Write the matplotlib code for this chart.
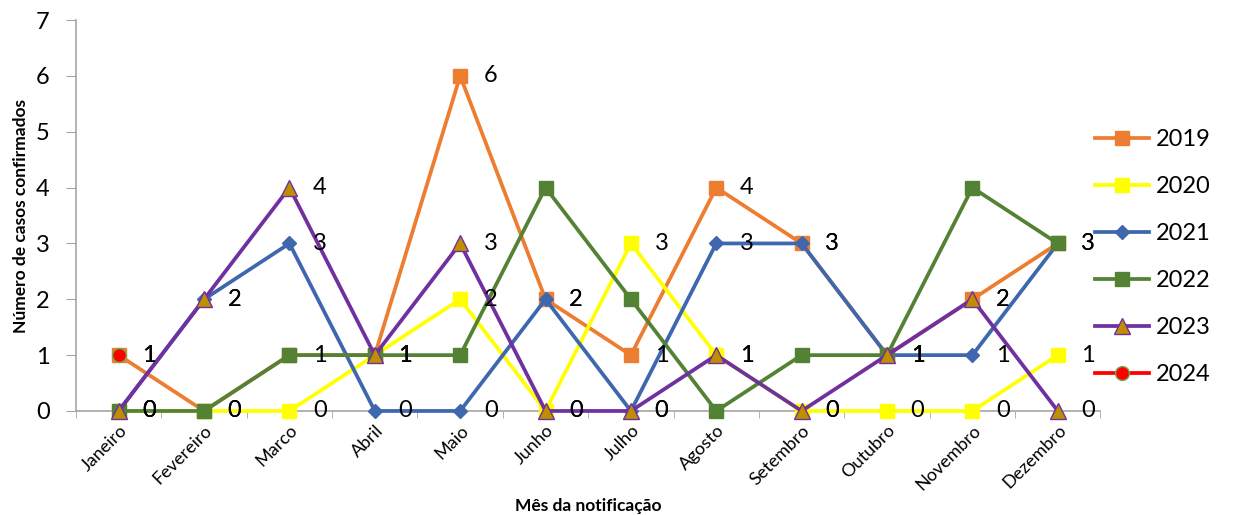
import matplotlib.pyplot as plt
import numpy as np

plt.rcParams['font.family'] = ['Lato', 'DejaVu Sans']

meses = ['Janeiro', 'Fevereiro', 'Marco', 'Abril', 'Maio', 'Junho', 'Julho',
         'Agosto', 'Setembro', 'Outubro', 'Novembro', 'Dezembro']
anos = ['2019', '2020', '2021', '2022', '2023', '2024']

casos_2019 = [1, 0, 1, 1, 6, 2, 1, 4, 3, 1, 2, 3]
casos_2020 = [0, 0, 0, 1, 2, 0, 3, 1, 0, 0, 0, 1]
casos_2021 = [0, 2, 3, 0, 0, 2, 0, 3, 3, 1, 1, 3]
casos_2022 = [0, 0, 1, 1, 1, 4, 2, 0, 1, 1, 4, 3]
casos_2023 = [0, 2, 4, 1, 3, 0, 0, 1, 0, 1, 2, 0]
casos_2024 = [1, np.nan, np.nan, np.nan, np.nan, np.nan, np.nan, np.nan, np.nan, np.nan, np.nan, np.nan]

series = [casos_2019, casos_2020, casos_2021, casos_2022, casos_2023, casos_2024]
# 2022 sem rótulos de dados no original
com_rotulo = [True, True, True, False, True, True]

# estilo de cada ano: cor da linha, marcador, preenchimento, borda, tamanho
estilos = [
    ('#ED7D31', 's', '#ED7D31', '#ED7D31', 10),
    ('#FFFF00', 's', '#FFFF00', '#FFFF00', 10),
    ('#3F67AE', 'D', '#3F67AE', '#3F67AE', 7.5),
    ('#548235', 's', '#548235', '#548235', 10),
    ('#7030A0', '^', '#BF8F00', '#7030A0', 11),
    ('#FF0000', 'o', '#FF0000', '#70AD47', 10),
]

fig = plt.figure(figsize=(12.38, 5.15), dpi=100)
ax = fig.add_axes([0.0614, 0.202, 0.8275, 0.759])

x = np.arange(len(meses))
for ano, vals, (cor, mk, face, borda, ms) in zip(anos, series, estilos):
    ax.plot(x, vals, color=cor, lw=2.7, marker=mk, markersize=ms,
            markerfacecolor=face, markeredgecolor=borda, markeredgewidth=1,
            label=ano, clip_on=False, zorder=3)

# rótulos de dados
for vals, rot in zip(series, com_rotulo):
    if not rot:
        continue
    for xi, v in zip(x, vals):
        if np.isnan(v):
            continue
        ax.annotate('%d' % v, (xi, v), xytext=(17, 0), textcoords='offset points',
                    fontsize=17, va='center', ha='left', color='black', zorder=4)

ax.set_xlim(-0.5, 11.5)
ax.set_ylim(0, 7)
ax.set_yticks(range(0, 8))
ax.set_xticks(x)
ax.set_xticklabels(meses, rotation=45, ha='right', rotation_mode='anchor', fontsize=13)
ax.set_xticks(np.arange(-0.5, 12, 1), minor=True)
ax.tick_params(axis='x', which='major', length=0, pad=8)
ax.tick_params(axis='x', which='minor', length=5, color='#A6A6A6', direction='out')
ax.tick_params(axis='y', length=7, color='#A6A6A6', labelsize=17, pad=12)
for s in ['top', 'right']:
    ax.spines[s].set_visible(False)
for s in ['left', 'bottom']:
    ax.spines[s].set_color('#A6A6A6')
    ax.spines[s].set_linewidth(1.2)

ax.set_ylabel('Número de casos confirmados', fontsize=12.5, fontweight='bold', labelpad=5)
ax.set_xlabel('Mês da notificação', fontsize=12.5, fontweight='bold')
ax.xaxis.set_label_coords(0.5, -0.222)

fig.legend(loc='upper left', bbox_to_anchor=(0.867, 0.79), frameon=False,
           fontsize=17, handlelength=2.3, labelspacing=1.1, handletextpad=0.3)

fig.savefig('out.png', dpi=100)
